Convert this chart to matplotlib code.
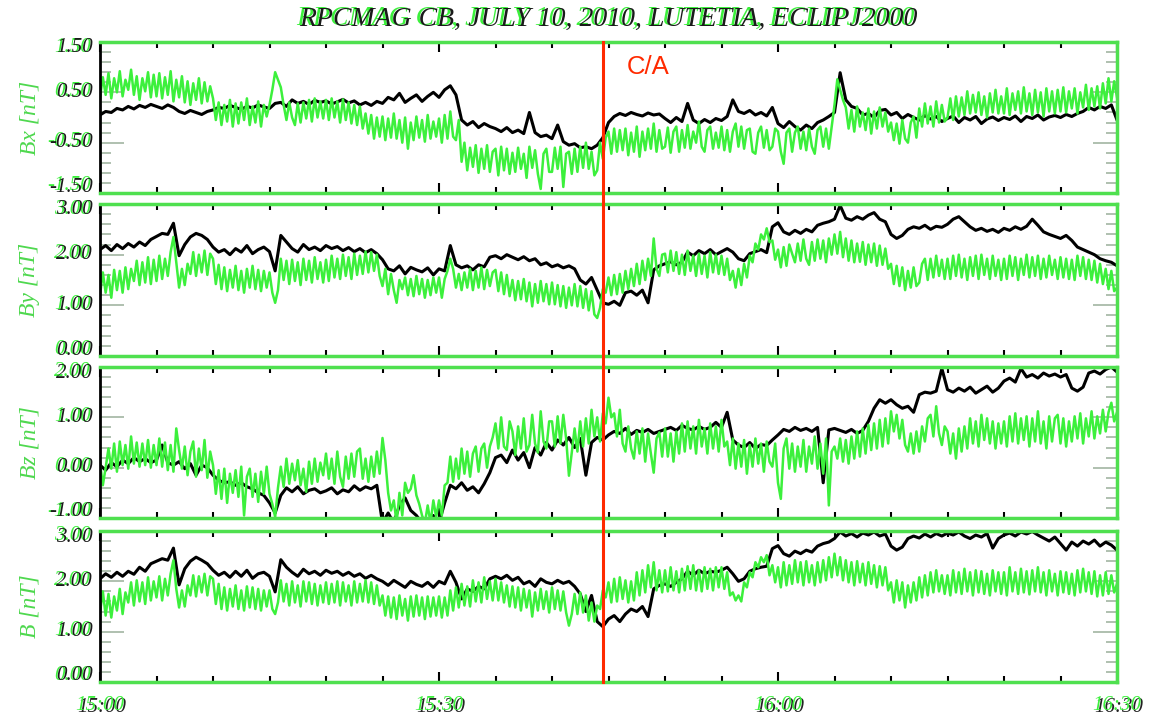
import numpy as np
import matplotlib
matplotlib.use("Agg")
import matplotlib.pyplot as plt
from matplotlib.ticker import MultipleLocator
from matplotlib.transforms import offset_copy, blended_transform_factory
from matplotlib.lines import Line2D

# sample times, minutes after 15:00 UT
minutes_black = np.arange(0, 90.01, 0.5)    # 30 s cadence
minutes_green = np.arange(0, 90.01, 0.25)   # 15 s cadence

time_ticks = [0, 30, 60, 90]
time_labels = ["15:00", "15:30", "16:00", "16:30"]
closest_approach = 44.5

bx_black = [
    0.05, 0.12, 0.10, 0.18, 0.15, 0.22, 0.17, 0.24, 0.20, 0.26,
    0.22, 0.18, 0.25, 0.20, 0.12, 0.08, 0.14, 0.10, 0.06, 0.12,
    0.15, 0.20, 0.18, 0.24, 0.20, 0.16, 0.22, 0.19, 0.25, 0.21,
    0.18, 0.28, 0.30, 0.22, 0.35, 0.28, 0.32, 0.26, 0.34, 0.30,
    0.33, 0.27, 0.31, 0.36, 0.29, 0.33, 0.25, 0.30, 0.24, 0.32,
    0.28, 0.40, 0.35, 0.48, 0.30, 0.38, 0.45, 0.32, 0.42, 0.50,
    0.40, 0.55, 0.63, 0.45, -0.05, -0.15, -0.08, -0.20, -0.12, -0.18,
    -0.22, -0.28, -0.20, -0.30, -0.25, -0.32, 0.10, -0.30, -0.38, -0.35,
    -0.42, -0.15, -0.48, -0.55, -0.52, -0.60, -0.58, -0.62, -0.55, -0.40,
    -0.10, 0.02, 0.08, 0.04, 0.10, 0.06, 0.03, 0.09, 0.05, 0.07,
    -0.02, -0.10, 0.00, -0.08, 0.28, -0.05, -0.12, -0.04, -0.10, -0.02,
    -0.06, 0.02, 0.35, 0.12, 0.08, 0.14, 0.05, 0.10, 0.03, 0.20,
    -0.12, -0.20, -0.08, -0.18, -0.25, -0.15, -0.22, -0.10, -0.05, 0.02,
    0.10, 0.89, 0.35, 0.22, 0.18, 0.05, 0.08, 0.00, 0.14, 0.16,
    0.05, 0.10, -0.02, 0.06, 0.00, -0.05, 0.04, -0.03, 0.02, -0.08,
    -0.02, 0.03, -0.10, 0.00, -0.05, 0.02, -0.12, -0.03, 0.01, -0.06,
    0.00, -0.04, 0.03, -0.08, 0.02, -0.02, 0.05, -0.05, 0.01, 0.04,
    0.00, 0.06, 0.02, 0.08, 0.12, 0.20, 0.15, 0.22, 0.18, 0.25,
    -0.05,
]
bx_green = [
    0.40, 0.80, 0.45, 0.88, 0.38, 0.78, 0.50, 0.92, 0.42, 0.75, 0.55, 0.95, 0.45, 0.82, 0.35, 0.78, 0.52, 0.90, 0.40, 0.85,
    0.42, 0.88, 0.38, 0.80, 0.45, 0.92, 0.32, 0.75, 0.40, 0.82, 0.30, 0.72, 0.25, 0.68, 0.35, 0.78, 0.28, 0.70, 0.32, 0.62,
    0.38, -0.05, 0.30, -0.15, 0.25, -0.08, 0.35, -0.18, 0.28, -0.12, 0.30, -0.05, 0.38, -0.15, 0.22, -0.10, 0.32, -0.18, 0.25, 0.02,
    0.25, 0.55, 0.90, 0.75, 0.60, 0.25, -0.05, 0.30, 0.00, -0.15, 0.28, -0.10, 0.30, -0.02, 0.35, -0.08, 0.38, 0.00, 0.32, -0.02,
    0.35, -0.05, 0.38, 0.00, 0.32, -0.10, 0.36, -0.05, 0.30, -0.12, 0.25, -0.15, 0.22, -0.22, 0.08, -0.32, 0.05, -0.42, 0.00, -0.38,
    0.02, -0.45, -0.02, -0.40, 0.08, -0.42, -0.05, -0.50, 0.00, -0.62, -0.10, -0.45, 0.02, -0.40, -0.05, -0.48, 0.05, -0.42, -0.08, -0.38,
    -0.02, -0.50, 0.05, -0.42, 0.12, -0.38, -0.45, -0.05, -0.88, -0.50, -1.05, -0.60, -0.98, -0.55, -1.10, -0.62, -1.02, -0.55, -1.08, -0.68,
    -0.62, -1.15, -0.58, -1.05, -0.62, -1.12, -0.70, -1.08, -0.60, -1.02, -0.72, -1.20, -0.58, -1.00, -0.65, -1.12, -1.42, -0.72, -0.62, -1.08,
    -1.08, -0.60, -1.02, -0.58, -1.38, -0.72, -0.68, -1.12, -0.62, -1.08, -0.58, -1.00, -0.50, -1.02, -0.68, -1.15, -1.05, -0.50, -0.82, -0.40,
    -0.28, -0.72, -0.22, -0.68, -0.25, -0.65, -0.22, -0.75, -0.30, -0.68, -0.18, -0.78, -0.28, -0.65, -0.22, -0.62, -0.12, -0.68, -0.25, -0.62,
    -0.58, -0.20, -0.70, -0.28, -0.18, -0.68, -0.25, -0.60, -0.15, -0.62, -0.28, -0.50, -0.08, -0.58, -0.68, -0.25, -0.18, -0.62, -0.30, -0.60,
    -0.18, -0.65, -0.25, -0.68, -0.28, -0.12, -0.58, -0.18, -0.62, -0.25, -0.22, -0.68, -0.72, -0.30, -0.18, -0.60, -0.25, -0.65, -0.58, -0.22,
    -0.28, -0.68, -0.92, -0.30, -0.22, -0.68, -0.30, -0.18, -0.62, -0.28, -0.65, -0.22, -0.58, -0.72, -0.25, -0.18, -0.58, -0.22, -0.62, -0.18,
    0.25, 0.76, 0.55, 0.35, 0.20, -0.22, 0.15, -0.28, 0.22, -0.18, 0.10, -0.25, 0.18, -0.32, 0.12, -0.22, 0.20, -0.18, 0.10, -0.28,
    -0.10, -0.45, -0.12, -0.52, -0.05, -0.42, -0.50, -0.10, 0.02, -0.40, 0.18, -0.18, 0.28, -0.12, 0.22, -0.18, 0.32, -0.10, 0.25, -0.08,
    0.00, 0.38, -0.05, 0.42, 0.02, 0.40, 0.05, 0.52, 0.08, 0.45, 0.10, 0.50, 0.05, 0.42, 0.00, 0.48, 0.10, 0.55, 0.08, 0.42,
    0.08, 0.58, 0.05, 0.48, 0.15, 0.52, 0.08, 0.60, 0.12, 0.48, 0.05, 0.55, 0.10, 0.50, 0.02, 0.58, 0.12, 0.52, 0.08, 0.55,
    0.12, 0.60, 0.10, 0.52, 0.18, 0.58, 0.08, 0.50, 0.20, 0.65, 0.15, 0.58, 0.22, 0.62, 0.18, 0.68, 0.28, 0.78, 0.32, 0.72,
    0.40,
]

by_black = [
    2.10, 2.18, 2.08, 2.20, 2.12, 2.22, 2.15, 2.25, 2.18, 2.30,
    2.36, 2.42, 2.40, 2.62, 1.98, 2.20, 2.35, 2.42, 2.38, 2.30,
    2.15, 2.05, 2.10, 2.00, 2.12, 2.05, 2.18, 2.02, 2.10, 2.15,
    2.06, 1.68, 2.38, 2.25, 2.12, 2.05, 2.20, 2.10, 2.15, 2.08,
    2.18, 2.12, 2.16, 2.08, 2.14, 2.06, 2.12, 2.04, 2.10, 2.02,
    1.90, 1.72, 1.68, 1.78, 1.62, 1.75, 1.70, 1.66, 1.74, 1.60,
    1.72, 1.68, 2.18, 1.80, 1.74, 1.78, 1.70, 1.80, 1.76, 1.95,
    1.98, 1.92, 2.00, 1.95, 1.90, 1.96, 1.88, 1.92, 1.80, 1.84,
    1.76, 1.80, 1.74, 1.78, 1.72, 1.50, 1.42, 1.55, 1.30, 1.05,
    1.02, 1.08, 1.00, 1.25, 1.28, 1.20, 1.30, 1.05, 1.70, 1.78,
    1.82, 1.86, 1.80, 1.85, 2.05, 1.98, 2.08, 2.02, 2.10, 2.00,
    2.06, 2.12, 2.05, 1.92, 1.88, 2.02, 2.06, 2.10, 2.04, 2.55,
    2.63, 2.45, 2.40, 2.48, 2.42, 2.50, 2.45, 2.58, 2.62, 2.65,
    2.70, 2.97, 2.72, 2.68, 2.75, 2.70, 2.78, 2.83, 2.70, 2.65,
    2.40, 2.32, 2.38, 2.50, 2.55, 2.52, 2.58, 2.50, 2.56, 2.54,
    2.60, 2.70, 2.75, 2.65, 2.55, 2.48, 2.52, 2.46, 2.50, 2.44,
    2.52, 2.48, 2.55, 2.50, 2.56, 2.70, 2.58, 2.45, 2.40, 2.36,
    2.32, 2.38, 2.28, 2.15, 2.10, 2.05, 2.00, 1.92, 1.88, 1.85,
    1.78,
]
by_green = [
    1.20, 1.65, 1.25, 1.60, 1.15, 1.70, 1.30, 1.68, 1.25, 1.75, 1.32, 1.72, 1.48, 1.88, 1.40, 1.85, 1.45, 1.95, 1.42, 1.90,
    1.48, 1.98, 1.52, 1.92, 1.58, 2.05, 2.35, 1.85, 1.35, 1.72, 1.40, 1.82, 1.62, 2.05, 1.58, 2.00, 1.65, 2.08, 1.60, 2.02,
    1.92, 1.42, 1.80, 1.32, 1.75, 1.28, 1.70, 1.35, 1.78, 1.30, 1.68, 1.25, 1.72, 1.35, 1.78, 1.32, 1.70, 1.28, 1.68, 1.35,
    1.65, 1.25, 1.05, 1.30, 1.92, 1.50, 1.88, 1.42, 1.90, 1.48, 1.85, 1.40, 1.92, 1.50, 1.88, 1.45, 1.95, 1.52, 1.85, 1.45,
    1.90, 1.48, 1.98, 1.55, 1.92, 1.52, 2.00, 1.58, 1.95, 1.52, 2.02, 1.60, 1.98, 1.62, 2.06, 1.65, 2.05, 1.68, 2.00, 1.58,
    1.38, 1.72, 1.22, 1.62, 1.30, 1.05, 1.50, 1.32, 1.55, 1.20, 1.52, 1.18, 1.58, 1.22, 1.52, 1.15, 1.50, 1.20, 1.55, 1.25,
    1.55, 1.15, 1.52, 1.68, 1.92, 1.72, 1.35, 1.62, 1.30, 1.65, 1.35, 1.72, 1.30, 1.68, 1.35, 1.75, 1.32, 1.70, 1.38, 1.65,
    1.70, 1.28, 1.65, 1.22, 1.60, 1.18, 1.50, 1.10, 1.48, 1.12, 1.52, 1.08, 1.45, 0.98, 1.42, 1.05, 1.48, 1.08, 1.42, 1.02,
    1.45, 1.02, 1.40, 0.98, 1.38, 0.95, 1.35, 1.00, 1.42, 0.98, 1.38, 0.95, 1.32, 0.90, 1.28, 0.82, 0.75, 0.95, 1.32, 1.25,
    1.55, 1.20, 1.60, 1.22, 1.62, 1.25, 1.68, 1.32, 1.72, 1.38, 1.82, 1.42, 1.88, 1.50, 1.92, 1.58, 2.32, 1.72, 1.58, 2.00,
    2.02, 1.65, 2.08, 1.68, 2.05, 1.62, 2.00, 1.60, 2.08, 1.68, 1.98, 1.58, 2.02, 1.62, 1.98, 1.55, 2.05, 1.65, 2.00, 1.62,
    1.98, 1.60, 1.92, 1.50, 1.68, 1.35, 1.72, 1.40, 1.82, 1.55, 1.98, 1.85, 2.22, 2.10, 2.40, 2.30, 2.52, 2.25, 2.28, 1.90,
    2.10, 1.75, 2.15, 1.78, 2.20, 2.02, 1.85, 2.22, 1.88, 2.30, 1.92, 1.80, 2.25, 1.88, 2.30, 1.92, 2.28, 1.85, 2.32, 2.00,
    2.40, 2.02, 2.45, 1.95, 2.32, 1.88, 2.28, 1.85, 2.22, 1.86, 2.25, 1.80, 2.20, 1.85, 2.22, 1.78, 2.18, 1.80, 2.12, 1.72,
    1.82, 1.42, 1.78, 1.38, 1.75, 1.30, 1.68, 1.35, 1.75, 1.38, 1.45, 1.82, 1.92, 1.50, 1.92, 1.55, 1.98, 1.58, 1.90, 1.52,
    1.92, 1.52, 1.98, 1.58, 2.00, 1.55, 1.92, 1.50, 1.95, 1.58, 1.98, 1.52, 2.00, 1.60, 1.92, 1.52, 1.98, 1.58, 1.90, 1.50,
    1.92, 1.52, 1.98, 1.58, 1.95, 1.50, 1.92, 1.60, 2.00, 1.55, 1.95, 1.58, 1.98, 1.52, 1.92, 1.55, 1.98, 1.60, 1.90, 1.52,
    1.95, 1.55, 1.92, 1.52, 1.90, 1.50, 1.98, 1.58, 1.95, 1.52, 1.90, 1.50, 1.88, 1.45, 1.82, 1.42, 1.72, 1.32, 1.68, 1.28,
    1.35,
]

bz_black = [
    0.05, -0.05, 0.10, 0.02, 0.15, 0.08, 0.20, 0.12, 0.18, 0.10,
    0.15, 0.45, 0.10, 0.05, 0.12, -0.02, 0.08, -0.15, 0.05, 0.00,
    -0.15, -0.25, -0.30, -0.28, -0.35, -0.30, -0.38, -0.42, -0.50, -0.55,
    -0.70, -0.90, -0.55, -0.40, -0.48, -0.38, -0.52, -0.45, -0.42, -0.50,
    -0.46, -0.40, -0.52, -0.44, -0.48, -0.36, -0.45, -0.38, -0.42, -0.35,
    -1.10, -0.90, -1.10, -0.75, -0.60, -0.85, -0.95, -1.10, -1.10, -0.95,
    -1.10, -0.70, -0.35, -0.42, -0.30, -0.45, -0.38, -0.50, -0.32, -0.10,
    0.20, 0.25, 0.10, 0.35, 0.15, 0.30, 0.00, 0.40, 0.25, 0.50,
    0.35, 0.55, 0.45, 0.60, 0.40, 0.58, -0.15, 0.50, 0.60, 0.55,
    0.65, 0.72, 0.68, 0.78, 0.66, 0.74, 0.70, 0.76, 0.68, 0.72,
    0.76, 0.80, 0.74, 0.84, 0.78, 0.75, 0.82, 0.76, 0.80, 0.90,
    0.80, 1.10, 0.55, 0.45, 0.40, 0.50, 0.38, 0.46, 0.44, 0.55,
    0.65, 0.76, 0.72, 0.80, 0.74, 0.78, 0.72, 0.80, -0.30, 0.75,
    0.78, 0.74, 0.70, 0.76, 0.68, 0.74, 0.92, 1.18, 1.35, 1.28,
    1.35, 1.25, 1.18, 1.22, 1.10, 1.45, 1.50, 1.48, 1.52, 1.97,
    1.55, 1.50, 1.58, 1.52, 1.60, 1.48, 1.55, 1.62, 1.50, 1.58,
    1.72, 1.78, 1.70, 1.97, 1.80, 1.85, 1.78, 1.88, 1.82, 1.86,
    1.80, 1.85, 1.58, 1.52, 1.60, 1.88, 1.92, 1.86, 1.95, 2.00,
    1.90,
]
bz_green = [
    0.10, -0.35, 0.00, 0.38, -0.02, 0.48, -0.08, 0.52, 0.05, 0.45, -0.02, 0.62, 0.08, 0.50, 0.02, 0.48, 0.05, 0.55, 0.00, 0.45,
    0.05, 0.58, 0.02, 0.50, -0.05, 0.45, -0.08, 0.78, 0.35, -0.02, 0.42, -0.15, 0.32, 0.52, -0.18, 0.38, -0.05, 0.55, -0.20, 0.32,
    0.05, -0.52, -0.05, -0.62, -0.02, -0.70, -0.12, -0.50, -0.05, -0.58, 0.02, -0.95, -0.18, -0.02, -0.58, -0.12, -0.68, -0.08, -0.52, 0.02,
    -0.52, -0.72, -0.98, -0.40, 0.02, -0.38, 0.18, -0.32, 0.08, -0.25, 0.15, -0.35, -0.02, -0.48, 0.12, -0.32, 0.18, -0.28, 0.10, -0.15,
    0.28, -0.22, 0.18, -0.32, 0.32, -0.18, -0.38, 0.22, -0.22, 0.28, -0.18, 0.32, 0.38, -0.22, 0.18, -0.28, 0.22, -0.18, 0.32, -0.12,
    0.59, 0.15, -0.50, -0.85, -0.65, -1.10, -0.50, -0.95, -0.30, -0.50, -0.42, -0.15, -0.55, -0.72, -0.95, -1.10, -0.75, -1.10, -0.65, -0.98,
    -0.65, -0.95, -0.35, -0.30, 0.22, -0.28, 0.18, -0.22, 0.38, -0.12, 0.32, -0.18, 0.28, 0.42, -0.08, 0.38, 0.48, 0.00, 0.42, 0.60,
    0.88, 0.38, 1.00, 0.42, 0.35, 0.92, 0.72, 0.25, 0.82, 0.38, 0.98, 0.32, 0.45, 1.05, 0.48, 0.30, 1.12, 0.52, 0.38, 0.92,
    0.92, 0.42, 1.02, 0.48, 1.05, 0.58, -0.16, 0.30, 0.78, 0.32, 0.92, 0.42, 0.98, 0.48, 1.15, 0.62, 1.00, 0.52, 1.08, 0.88,
    1.39, 1.00, 1.08, 0.62, 1.15, 0.48, 0.32, 0.82, 0.38, 0.18, 0.72, 0.28, 0.78, 0.12, 0.68, 0.28, -0.10, 0.58, 0.70, 0.22,
    0.78, 0.22, 0.68, 0.12, 0.72, 0.28, 0.88, 0.32, 0.92, 0.38, 0.82, 0.28, 0.95, 0.42, 0.78, 0.28, 0.88, 0.38, 0.82, 0.32,
    0.95, 0.42, 0.52, 0.05, 0.58, -0.02, 0.48, 0.02, 0.55, -0.12, 0.45, 0.02, 0.58, 0.08, 0.48, -0.08, 0.52, 0.12, 0.02, 0.48,
    -0.30, -0.62, 0.38, 0.58, -0.02, 0.48, -0.08, 0.42, 0.02, 0.55, -0.08, 0.42, 0.08, 0.62, -0.02, 0.48, -0.12, 0.58, -0.75, 0.32,
    0.42, 0.18, 0.58, 0.12, 0.55, 0.08, 0.62, 0.18, 0.72, 0.22, 0.78, 0.28, 0.85, 0.35, 0.88, 0.38, 0.95, 0.42, 0.98, 0.48,
    1.12, 0.72, 1.05, 0.58, 0.95, 0.45, 0.32, 0.68, 0.28, 0.72, 0.32, 0.82, 0.52, 0.98, 1.05, 0.62, 1.22, 0.68, 0.45, 0.82,
    0.72, 0.28, 0.68, 0.18, 0.78, 0.32, 0.82, 0.38, 0.98, 0.48, 0.92, 0.42, 1.05, 0.55, 0.98, 0.48, 0.92, 0.38, 0.88, 0.48,
    0.92, 0.42, 1.02, 0.52, 1.08, 0.48, 0.98, 0.55, 1.02, 0.42, 0.98, 0.52, 1.12, 0.48, 0.92, 0.38, 1.02, 0.52, 0.98, 1.05,
    0.48, 0.98, 0.42, 0.92, 0.52, 1.02, 0.58, 1.08, 0.48, 0.98, 0.62, 1.12, 0.58, 1.02, 0.68, 1.15, 0.72, 1.10, 1.29, 0.92,
    1.10,
]

b_black = [
    2.05, 2.15, 2.08, 2.18, 2.10, 2.20, 2.14, 2.28, 2.20, 2.35,
    2.40, 2.45, 2.42, 2.66, 1.93, 2.25, 2.40, 2.48, 2.42, 2.35,
    2.22, 2.12, 2.18, 2.08, 2.20, 2.10, 2.22, 2.06, 2.15, 2.18,
    2.10, 1.79, 2.43, 2.28, 2.18, 2.10, 2.24, 2.15, 2.20, 2.12,
    2.22, 2.16, 2.20, 2.12, 2.18, 2.10, 2.15, 2.06, 2.12, 2.05,
    2.00, 1.92, 2.02, 1.95, 1.88, 2.00, 1.94, 1.90, 1.98, 1.88,
    2.00, 1.95, 2.20, 1.98, 1.65, 1.85, 1.80, 1.90, 1.85, 2.05,
    2.10, 2.05, 2.12, 2.02, 2.08, 1.95, 2.00, 1.90, 2.05, 1.98,
    1.95, 2.02, 1.96, 2.00, 1.90, 1.75, 1.40, 1.72, 1.20, 1.10,
    1.25, 1.32, 1.20, 1.35, 1.45, 1.40, 1.50, 1.30, 1.85, 1.92,
    1.95, 1.90, 1.98, 2.05, 2.20, 2.12, 2.22, 2.15, 2.20, 2.18,
    2.22, 2.28, 2.15, 2.00, 2.05, 2.20, 2.25, 2.28, 2.30, 2.65,
    2.71, 2.55, 2.50, 2.60, 2.55, 2.62, 2.58, 2.70, 2.75, 2.78,
    2.85, 2.98, 2.90, 2.95, 2.88, 2.96, 2.92, 2.98, 2.90, 2.94,
    2.70, 2.62, 2.68, 2.85, 2.90, 2.86, 2.94, 2.88, 2.95, 2.90,
    2.96, 2.92, 2.98, 2.90, 2.85, 2.92, 2.88, 2.95, 2.66, 2.85,
    2.92, 2.96, 2.90, 2.98, 2.94, 2.99, 2.92, 2.86, 2.80, 2.88,
    2.75, 2.62, 2.78, 2.70, 2.80, 2.74, 2.82, 2.70, 2.78, 2.72,
    2.62,
]
b_green = [
    1.38, 1.80, 1.32, 1.75, 1.28, 1.70, 1.42, 1.85, 1.35, 1.78, 1.58, 1.98, 1.52, 2.02, 1.60, 1.98, 1.55, 2.08, 1.62, 2.00,
    1.68, 2.10, 1.62, 2.05, 1.72, 2.15, 2.42, 1.85, 1.48, 1.82, 1.50, 1.92, 1.72, 2.12, 1.70, 2.10, 1.78, 2.15, 1.72, 2.10,
    2.05, 1.55, 1.95, 1.45, 1.88, 1.42, 1.85, 1.50, 1.92, 1.45, 1.82, 1.42, 1.90, 1.48, 1.88, 1.45, 1.85, 1.42, 1.82, 1.50,
    1.82, 1.45, 1.35, 1.58, 2.02, 1.60, 1.95, 1.52, 2.00, 1.58, 1.92, 1.50, 2.00, 1.60, 1.98, 1.55, 1.95, 1.52, 1.92, 1.58,
    1.98, 1.55, 1.95, 1.58, 2.00, 1.52, 1.98, 1.60, 1.92, 1.52, 2.00, 1.58, 1.95, 1.60, 2.02, 1.58, 1.98, 1.55, 1.92, 1.52,
    1.72, 1.32, 1.70, 1.28, 1.68, 1.25, 1.72, 1.32, 1.65, 1.22, 1.70, 1.30, 1.72, 1.32, 1.68, 1.25, 1.70, 1.30, 1.68, 1.32,
    1.70, 1.28, 1.68, 1.32, 1.82, 1.42, 1.88, 1.48, 1.95, 1.52, 1.90, 1.50, 2.02, 1.60, 1.98, 1.58, 2.08, 1.65, 2.00, 1.62,
    2.05, 1.62, 1.98, 1.58, 1.92, 1.50, 1.90, 1.48, 1.88, 1.42, 1.85, 1.48, 1.82, 1.30, 1.78, 1.42, 1.85, 1.45, 1.80, 1.38,
    1.88, 1.45, 1.82, 1.42, 1.80, 1.38, 1.12, 1.35, 1.75, 1.35, 1.78, 1.38, 1.72, 1.22, 1.58, 1.20, 1.52, 1.45, 1.82, 1.68,
    1.98, 1.58, 2.05, 1.60, 2.08, 1.65, 2.02, 1.58, 2.00, 1.62, 2.18, 1.72, 2.22, 1.78, 2.32, 1.88, 2.38, 1.82, 2.22, 1.78,
    2.22, 1.80, 2.28, 1.82, 2.20, 1.78, 2.25, 1.82, 2.30, 1.85, 2.32, 1.82, 2.22, 1.80, 2.28, 1.85, 2.25, 1.82, 2.28, 1.88,
    2.28, 1.85, 2.18, 1.72, 1.78, 1.62, 1.72, 1.60, 1.98, 1.88, 2.18, 2.08, 2.38, 2.28, 2.48, 2.38, 2.52, 2.12, 2.32, 1.98,
    2.28, 1.88, 2.38, 1.92, 2.32, 1.95, 2.42, 1.98, 2.38, 1.92, 2.40, 1.98, 2.32, 1.92, 2.38, 1.98, 2.42, 2.02, 2.48, 2.08,
    2.55, 2.12, 2.48, 2.02, 2.42, 1.98, 2.38, 1.92, 2.40, 1.98, 2.35, 1.92, 2.38, 1.95, 2.32, 1.88, 2.30, 1.92, 2.28, 1.82,
    1.98, 1.58, 2.02, 1.62, 1.98, 1.48, 1.92, 1.58, 1.98, 1.62, 2.08, 1.68, 2.12, 1.72, 2.18, 1.78, 2.22, 1.80, 2.12, 1.75,
    2.12, 1.72, 2.22, 1.78, 2.18, 1.75, 2.25, 1.80, 2.18, 1.72, 2.22, 1.78, 2.20, 1.75, 2.15, 1.72, 2.22, 1.80, 2.18, 1.75,
    2.18, 1.72, 2.28, 1.80, 2.18, 1.75, 2.25, 1.78, 2.20, 1.74, 2.22, 1.80, 2.28, 1.78, 2.18, 1.72, 2.22, 1.80, 2.15, 1.72,
    2.20, 1.78, 2.18, 1.75, 2.15, 1.72, 2.22, 1.78, 2.25, 1.80, 2.18, 1.75, 2.20, 1.70, 2.12, 1.72, 2.18, 1.75, 2.12, 1.78,
    1.95,
]

panel_titles = ["Bx [nT]", "By [nT]", "Bz [nT]", "B [nT]"]
panel_ranges = [(-1.5, 1.5), (0.0, 3.0), (-1.0, 2.0), (0.0, 3.0)]
panel_ticks = [[1.5, 0.5, -0.5, -1.5], [3, 2, 1, 0], [2, 1, 0, -1], [3, 2, 1, 0]]
black_series = [bx_black, by_black, bz_black, b_black]
green_series = [bx_green, by_green, bz_green, b_green]

GREEN = "#3cf03c"
FRAME = "#4fe04f"
TICKGREY = "#a9bba9"
RED = "#ff2a00"
SERIF = "Liberation Serif"

W, H = 1152, 718
fig = plt.figure(figsize=(W / 100, H / 100), dpi=100)
fig.patch.set_facecolor("white")

# axes frames in pixels: (top, bottom)
frames = [(42, 193), (204, 356), (367, 518), (531, 682)]
left_px, right_px = 100, 1117


def ghost(ax, x, y, s, tr, front, back, dx, dy, **kw):
    ax.text(x, y, s, transform=offset_copy(tr, fig=fig, x=dx, y=dy, units="dots"),
            color=back, clip_on=False, **kw)
    ax.text(x, y, s, transform=tr, color=front, clip_on=False, **kw)


axes = []
for k, (top, bot) in enumerate(frames):
    ax = fig.add_axes([left_px / W, 1 - bot / H, (right_px - left_px) / W, (bot - top) / H])
    axes.append(ax)
    lo, hi = panel_ranges[k]
    ax.plot(minutes_black, black_series[k], color="black", lw=2.2, zorder=2)
    ax.plot(minutes_green, green_series[k], color=GREEN, lw=1.8, zorder=3)
    ax.set_xlim(0, 90)
    ax.set_ylim(lo, hi)

    for side in ("top", "bottom", "right"):
        ax.spines[side].set_color(FRAME)
        ax.spines[side].set_linewidth(2.5)
    ax.spines["left"].set_color("black")
    ax.spines["left"].set_linewidth(2.0)
    for sp in ax.spines.values():
        sp.set_zorder(5)

    # time ticks: black, inward, top and bottom
    ax.xaxis.set_major_locator(MultipleLocator(30))
    ax.xaxis.set_minor_locator(MultipleLocator(5))
    ax.tick_params(axis="x", which="both", direction="in", top=True, bottom=True,
                   color="black", width=1.5, labelbottom=False)
    ax.tick_params(axis="x", which="major", length=7)
    ax.tick_params(axis="x", which="minor", length=4)

    # field ticks: grey, inward, both sides
    ax.yaxis.set_major_locator(MultipleLocator(1.0, offset=lo % 1.0))
    ax.yaxis.set_minor_locator(MultipleLocator(0.2, offset=lo % 0.2))
    ax.tick_params(axis="y", which="both", direction="in", left=True, right=True,
                   color=TICKGREY, width=1.3, labelleft=False)
    ax.tick_params(axis="y", which="major", length=17)
    ax.tick_params(axis="y", which="minor", length=8)

    # value labels, pulled slightly inward at the frame edges
    ytr = blended_transform_factory(ax.transAxes, ax.transData)
    for v in panel_ticks[k]:
        shift = -6 if v == hi else (6 if v == lo else 0)
        tr = offset_copy(ytr, fig=fig, x=-7, y=shift, units="dots")
        ghost(ax, 0.0, v, f"{v:.2f}", tr, "#1a1a1a", GREEN, -2, 1,
              ha="right", va="center", fontsize=15, family=SERIF, style="italic")

    ax.text(-0.069, 0.5, panel_titles[k], transform=ax.transAxes, rotation=90,
            ha="center", va="center", fontsize=17, family=SERIF, style="italic",
            color="#4ed84e")

# time labels under the last panel
bax = axes[-1]
xtr = blended_transform_factory(bax.transData, bax.transAxes)
for t, lab in zip(time_ticks, time_labels):
    tr = offset_copy(xtr, fig=fig, x=0, y=-24, units="dots")
    ghost(bax, t, 0.0, lab, tr, GREEN, "#222222", 2, -1,
          ha="center", va="center", fontsize=15, family=SERIF, style="italic")

# closest-approach marker across all panels
ax0 = axes[0]
x_ca = ax0.transData.transform((closest_approach, 0))[0] / W
fig.add_artist(Line2D([x_ca, x_ca], [1 - frames[-1][1] / H, 1 - frames[0][0] / H],
                      transform=fig.transFigure, color=RED, lw=2.2, zorder=10))
ax0.text(46.6, 0.835, "C/A", transform=blended_transform_factory(ax0.transData, ax0.transAxes),
         color=RED, fontsize=18.5, family="Liberation Sans", ha="left", va="center")

# title
title = "RPCMAG CB, JULY 10, 2010, LUTETIA, ECLIPJ2000"
fig.text(608 / W, 1 - 19 / H, title, ha="center", va="center", fontsize=20,
         family=SERIF, style="italic", color=GREEN,
         transform=offset_copy(fig.transFigure, fig=fig, x=-3, y=1, units="dots"))
fig.text(608 / W, 1 - 19 / H, title, ha="center", va="center", fontsize=20,
         family=SERIF, style="italic", color="#1a1a1a")

fig.savefig("out.png", dpi=100, facecolor="white")
